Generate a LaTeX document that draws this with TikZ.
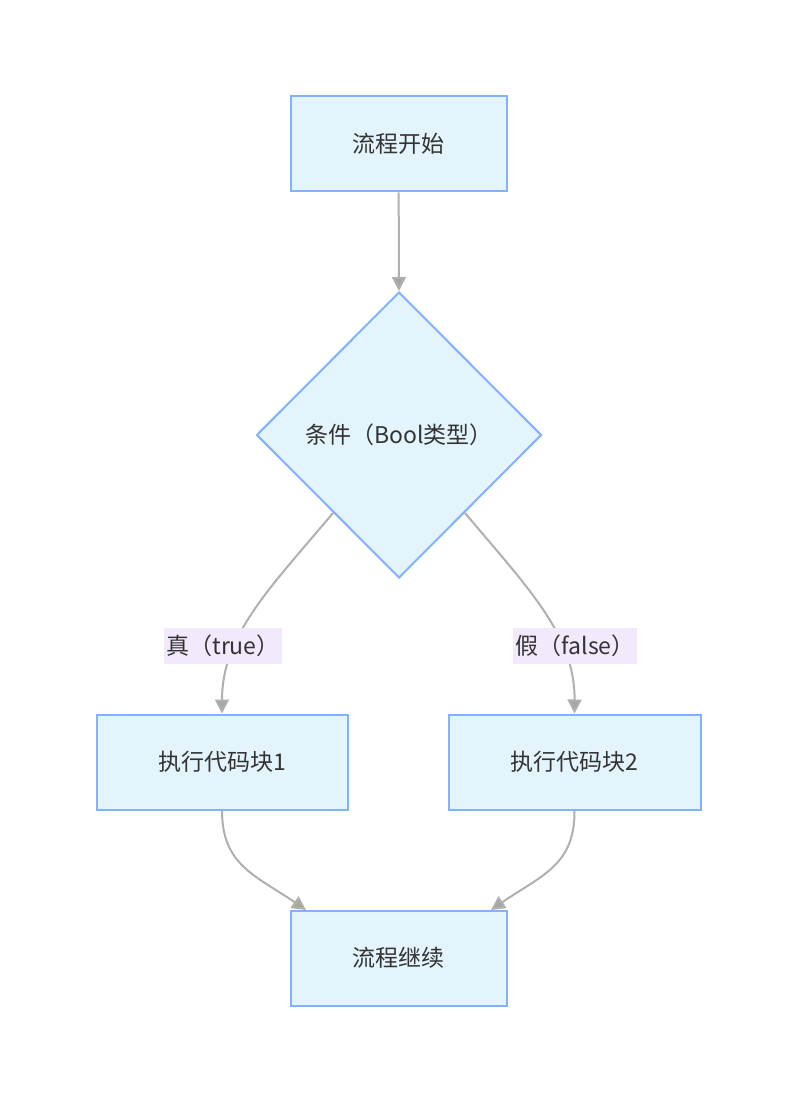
\documentclass[tikz,border=0pt]{standalone}
\usepackage{fontspec}
\setmainfont{Noto Sans CJK SC}
\usetikzlibrary{arrows.meta,shapes.geometric}
\definecolor{boxfill}{HTML}{E3F4FD}
\definecolor{boxline}{HTML}{82B1FF}
\definecolor{lblbg}{HTML}{F3E9FC}
\definecolor{edgec}{HTML}{B0B0B0}
\definecolor{arrowc}{HTML}{A6A6A6}
\definecolor{txt}{HTML}{333333}
\begin{document}
\begin{tikzpicture}[x=1pt,y=-1pt,
  box/.style={draw=boxline,fill=boxfill,line width=2pt,minimum width=216pt,minimum height=95pt,inner sep=0pt,text=txt,font=\fontsize{23}{26}\selectfont},
  cond/.style={diamond,draw=boxline,fill=boxfill,line width=2pt,minimum width=285pt,minimum height=286pt,inner sep=0pt,text=txt,font=\fontsize{23}{26}\selectfont},
  lbl/.style={fill=lblbg,inner sep=0pt,minimum height=36pt,text=txt,font=\fontsize{23}{26}\selectfont},
  edge/.style={draw=edgec,line width=2pt,-{Triangle[length=14pt,width=14pt,fill=arrowc]}},
]
\useasboundingbox (0,0) rectangle (797,1102);
\fill[white] (0,0) rectangle (797,1102);
\node[box] (start) at (398.5,144) {流程开始};
\node[cond] (c) at (399,435) {条件（Bool类型）};
\node[box,minimum width=251pt] (b1) at (222,762) {执行代码块1};
\node[box,minimum width=252pt] (b2) at (574.5,762) {执行代码块2};
\node[box] (end) at (398.5,958) {流程继续};
\coordinate (c1) at (333,513);
\coordinate (c2) at (465,513);
\draw[edge] (start) -- (c.north);
\draw[edge] (c1) .. controls (270,588) and (222,635) .. (b1.north);
\draw[edge] (c2) .. controls (528,588) and (575,635) .. (b2.north);
\coordinate (e1) at (306,910);
\coordinate (e2) at (491,910);
\draw[edge] (b1.south) .. controls (222,865) and (255,875) .. (e1);
\draw[edge] (b2.south) .. controls (575,865) and (542,875) .. (e2);
\node[lbl,minimum width=118pt] (l1) at (223,646) {真（true）};
\node[lbl,minimum width=124pt] (l2) at (575,646) {假（false）};
\end{tikzpicture}
\end{document}
